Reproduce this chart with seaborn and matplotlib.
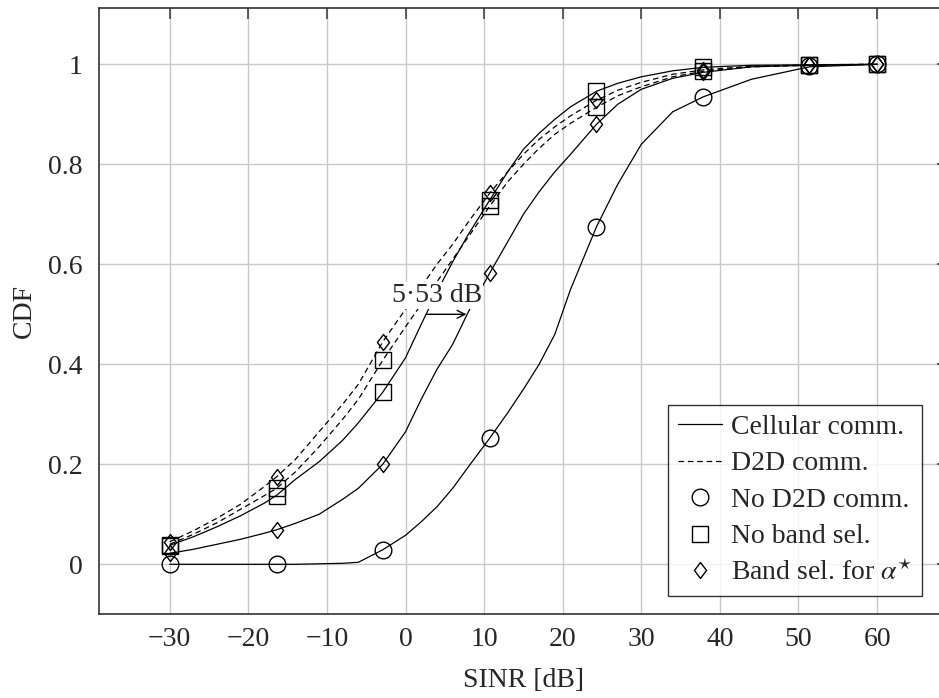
import numpy as np
import pandas as pd
import matplotlib
matplotlib.use("Agg")
import matplotlib.pyplot as plt
from matplotlib.path import Path
from matplotlib.lines import Line2D
import seaborn as sns

# ---------------- data ----------------
LINE_X = [-30, -27, -24, -21, -18, -16.4, -14, -11, -8, -6, -2.9, 0, 2, 4, 6, 8,
          10.7, 13, 15, 17, 19, 21, 24.3, 27, 30, 34, 37.9, 44, 51.4, 60]

no_d2d_line = [0, 0, 0, 0, 0, 0, 0, 0.001, 0.002, 0.004, 0.029, 0.058, 0.085, 0.115,
               0.152, 0.195, 0.252, 0.303, 0.35, 0.40, 0.46, 0.55, 0.675, 0.76, 0.84,
               0.905, 0.935, 0.97, 0.995, 1.0]
cell_noband_line = [0.038, 0.055, 0.075, 0.097, 0.122, 0.138, 0.17, 0.205, 0.248, 0.283,
                    0.344, 0.413, 0.48, 0.545, 0.605, 0.66, 0.728, 0.785, 0.83, 0.862,
                    0.89, 0.915, 0.946, 0.962, 0.975, 0.987, 0.994, 0.998, 0.999, 1.0]
d2d_noband_line = [0.04, 0.06, 0.083, 0.11, 0.137, 0.152, 0.185, 0.235, 0.29, 0.33,
                   0.408, 0.475, 0.52, 0.565, 0.61, 0.655, 0.716, 0.765, 0.80, 0.832,
                   0.86, 0.882, 0.914, 0.937, 0.955, 0.975, 0.986, 0.995, 0.998, 1.0]
d2d_band_line = [0.045, 0.067, 0.092, 0.12, 0.155, 0.175, 0.21, 0.265, 0.32, 0.36,
                 0.445, 0.51, 0.555, 0.60, 0.64, 0.685, 0.742, 0.785, 0.82, 0.85,
                 0.875, 0.897, 0.928, 0.948, 0.964, 0.98, 0.989, 0.996, 0.999, 1.0]
cell_band_line = [0.022, 0.03, 0.04, 0.05, 0.062, 0.069, 0.082, 0.10, 0.13, 0.152,
                  0.20, 0.265, 0.33, 0.39, 0.44, 0.505, 0.582, 0.645, 0.70, 0.745,
                  0.785, 0.82, 0.88, 0.92, 0.95, 0.972, 0.984, 0.995, 0.998, 1.0]

MARK_X = [-30, -16.4, -2.9, 10.7, 24.3, 37.9, 51.4, 60]
no_d2d_mark = [0, 0, 0.029, 0.252, 0.675, 0.935, 0.996, 1.0]
cell_noband_mark = [0.036, 0.137, 0.344, 0.728, 0.946, 0.994, 0.999, 1.0]
d2d_noband_mark = [0.038, 0.152, 0.408, 0.716, 0.914, 0.986, 0.998, 1.0]
d2d_band_mark = [0.045, 0.175, 0.445, 0.742, 0.928, 0.989, 0.999, 1.0]
cell_band_mark = [0.022, 0.069, 0.20, 0.582, 0.88, 0.984, 0.998, 1.0]

X_TICKS = [-30, -20, -10, 0, 10, 20, 30, 40, 50, 60]
Y_TICKS = [0, 0.2, 0.4, 0.6, 0.8, 1.0]
Y_TICKLABELS = ["0", "0.2", "0.4", "0.6", "0.8", "1"]
GAP_LABEL = "5\u00b753 dB"
GAP_FROM, GAP_TO, GAP_Y = 2.67, 7.75, 0.5

LEGEND_LABELS = ["Cellular comm.", "D2D comm.", "No D2D comm.", "No band sel.",
                 r"Band sel. for $\alpha^{\star}$"]

# ---------------- style ----------------
sns.set_theme(style="white")
plt.rcParams["font.family"] = ["Liberation Serif", "DejaVu Serif"]
plt.rcParams["mathtext.fontset"] = "stix"
FS = 20

W, H = 939, 698
fig = plt.figure(figsize=(W / 100, H / 100), dpi=100)
left, right, top, bottom = 99, 947.8, 8.3, 614.3
ax = fig.add_axes([left / W, 1 - bottom / H, (right - left) / W, (bottom - top) / H])

diamond = Path([(0, 1), (0.76, 0), (0, -1), (-0.76, 0), (0, 1)],
               [Path.MOVETO, Path.LINETO, Path.LINETO, Path.LINETO, Path.CLOSEPOLY])
DASH = (0, (4.5, 3))

series = [
    (no_d2d_line, no_d2d_mark, "-", "o", 12.0),
    (cell_noband_line, cell_noband_mark, "-", "s", 11.5),
    (d2d_noband_line, d2d_noband_mark, DASH, "s", 11.5),
    (cell_band_line, cell_band_mark, "-", diamond, 11.5),
    (d2d_band_line, d2d_band_mark, DASH, diamond, 11.5),
]

for ly, my, ls, mk, ms in series:
    dfl = pd.DataFrame({"x": LINE_X, "y": ly})
    sns.lineplot(data=dfl, x="x", y="y", ax=ax, color="black", lw=0.9,
                 linestyle=ls, sort=False, estimator=None, legend=False)
    dfm = pd.DataFrame({"x": MARK_X, "y": my})
    sns.lineplot(data=dfm, x="x", y="y", ax=ax, color="black", linestyle="none",
                 marker=mk, markersize=ms, markerfacecolor="none",
                 markeredgecolor="black", markeredgewidth=1.0, sort=False,
                 estimator=None, legend=False)

ax.set_xlim(-39, 69)
ax.set_ylim(-0.1, 1.112)
ax.set_xticks(X_TICKS)
ax.set_xticklabels([str(t).replace("-", "\u2212") for t in X_TICKS])
ax.set_yticks(Y_TICKS)
ax.set_yticklabels(Y_TICKLABELS)
ax.grid(True, color="#c8c8c8", lw=1.0)
ax.set_axisbelow(True)
ax.tick_params(direction="in", length=8, width=1.2, color="#444444",
               top=True, right=True, labelsize=FS, pad=9)
ax.tick_params(axis="y", pad=12)
for s in ax.spines.values():
    s.set_color("#333333")
    s.set_linewidth(1.2)

ax.set_xlabel("SINR [dB]", fontsize=FS, labelpad=12)
ax.set_ylabel("CDF", fontsize=FS, labelpad=8)

# gap annotation
ax.annotate("", xy=(GAP_TO, GAP_Y), xytext=(GAP_FROM, GAP_Y),
            arrowprops=dict(arrowstyle="->", color="black", lw=1.0,
                            shrinkA=0, shrinkB=0, mutation_scale=14))
ax.text(4.0, 0.538, GAP_LABEL, fontsize=FS, ha="center", va="center",
        bbox=dict(facecolor="white", edgecolor="none", pad=0.5), zorder=5)

# legend
handles = [
    Line2D([], [], color="black", lw=0.9, ls="-"),
    Line2D([], [], color="black", lw=0.9, ls=DASH),
    Line2D([], [], color="black", ls="none", marker="o", ms=12, mfc="none", mew=1.0),
    Line2D([], [], color="black", ls="none", marker="s", ms=11.5, mfc="none", mew=1.0),
    Line2D([], [], color="black", ls="none", marker=diamond, ms=11.5, mfc="none", mew=1.0),
]
leg = ax.legend(handles, LEGEND_LABELS, loc="lower right",
                bbox_to_anchor=(921.7 / W, 1 - 595.7 / H),
                bbox_transform=fig.transFigure, fontsize=FS, frameon=True,
                fancybox=False, edgecolor="black", handlelength=1.6,
                handletextpad=0.3, labelspacing=0.4, borderpad=0.35,
                borderaxespad=0)
leg.get_frame().set_linewidth(1.0)

fig.savefig("out.png", dpi=100)
